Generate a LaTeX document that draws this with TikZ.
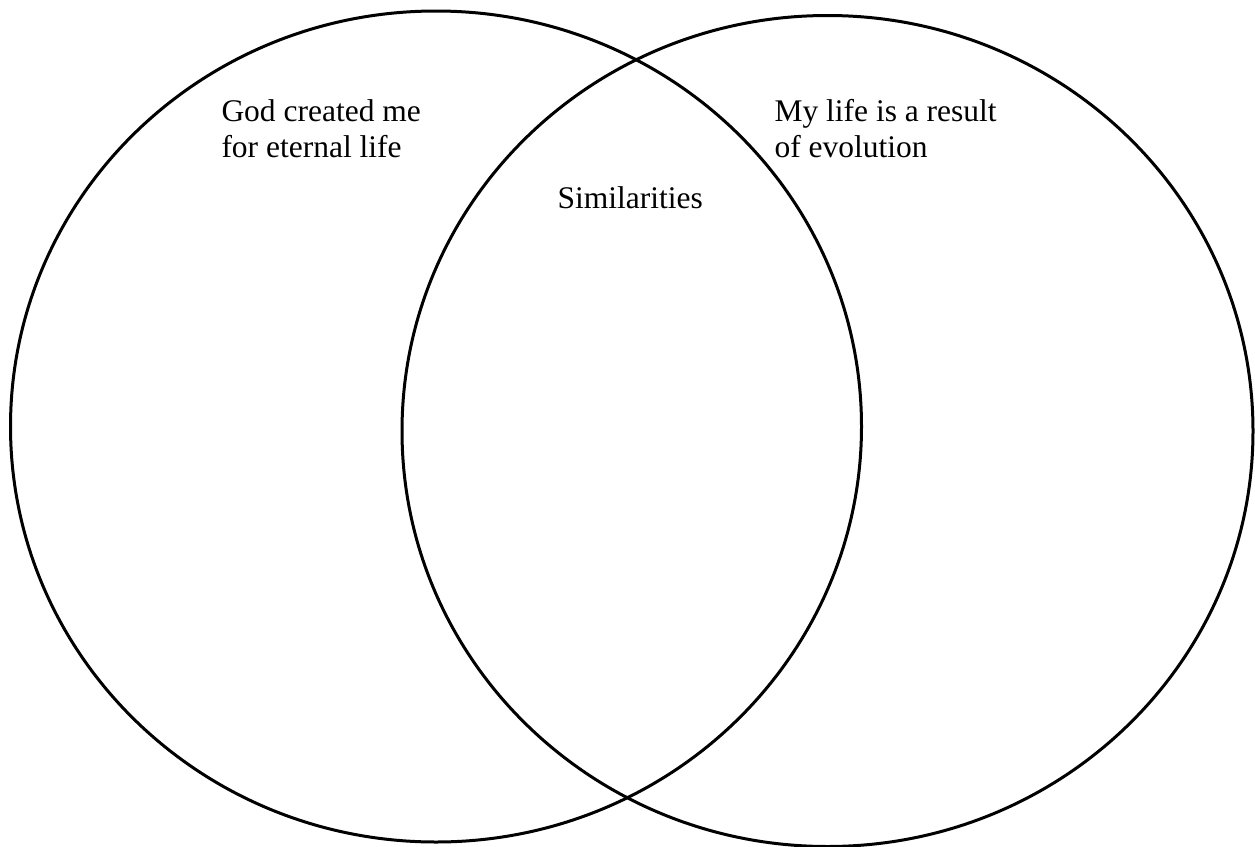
\documentclass[tikz,border=0pt]{standalone}
\usepackage{fontspec}
\setmainfont{Liberation Serif}
\usetikzlibrary{shapes.geometric, positioning}

\begin{document}
\begin{tikzpicture}[x=1pt, y=-1pt, line width=3pt,
    venn/.style={ellipse, draw, inner sep=0pt, minimum width=851pt, minimum height=831pt},
    lbl/.style={inner sep=0pt, align=left, font=\fontsize{31.5}{36}\selectfont}]
    \useasboundingbox (0,0) rectangle (1255,846);
    % Hai vòng tròn
    \node[venn] (left) at (436,426.5) {};
    \node[venn] (right) at (827.5,431) {};

    % Nhãn
    \node[lbl, anchor=base west] (godlbl) at (220,157) {God created me\\for eternal life};
    \node[lbl, anchor=base west] (evolbl) at (773,157) {My life is a result\\of evolution};
    \node[lbl, anchor=base west] (simlbl) at (556,208) {Similarities};
\end{tikzpicture}
\end{document}
